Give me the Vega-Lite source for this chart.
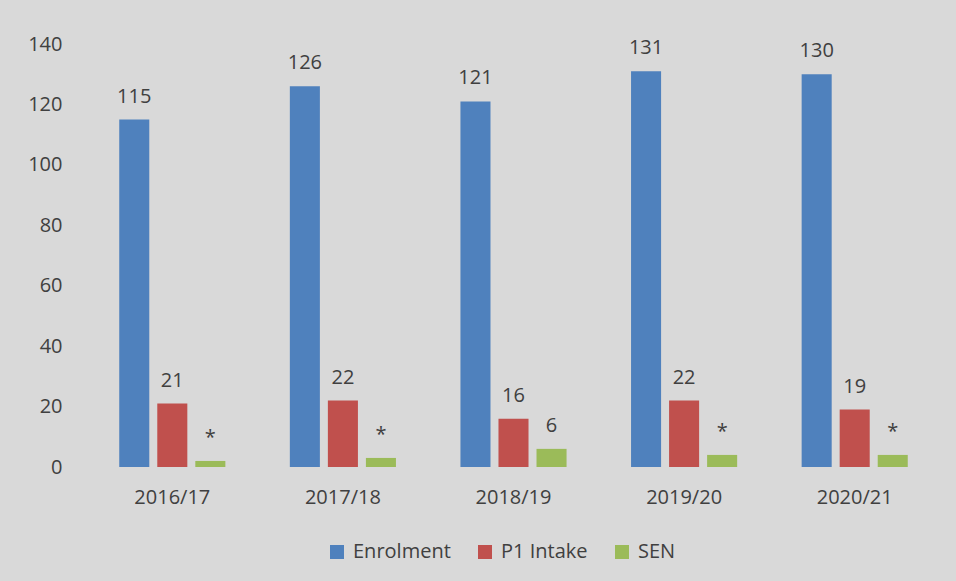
{
  "$schema": "https://vega.github.io/schema/vega-lite/v6.json",
  "width": 853,
  "height": 423,
  "autosize": {"type": "none"},
  "padding": {"left": 87, "top": 44, "right": 16, "bottom": 114},
  "background": "#d9d9d9",
  "config": {
    "view": {"stroke": null},
    "font": "Open Sans",
    "axis": {"labelColor": "#404040", "labelFont": "Open Sans", "labelFontSize": 20, "grid": false, "domain": false, "ticks": false, "title": null},
    "legend": {"labelColor": "#404040", "labelFont": "Open Sans", "labelFontSize": 20}
  },
  "data": {
    "values": [
      {"year": "2016/17", "series": "Enrolment", "value": 115, "label": "115"},
      {"year": "2016/17", "series": "P1 Intake", "value": 21, "label": "21"},
      {"year": "2016/17", "series": "SEN", "value": 2, "label": "*"},
      {"year": "2017/18", "series": "Enrolment", "value": 126, "label": "126"},
      {"year": "2017/18", "series": "P1 Intake", "value": 22, "label": "22"},
      {"year": "2017/18", "series": "SEN", "value": 3, "label": "*"},
      {"year": "2018/19", "series": "Enrolment", "value": 121, "label": "121"},
      {"year": "2018/19", "series": "P1 Intake", "value": 16, "label": "16"},
      {"year": "2018/19", "series": "SEN", "value": 6, "label": "6"},
      {"year": "2019/20", "series": "Enrolment", "value": 131, "label": "131"},
      {"year": "2019/20", "series": "P1 Intake", "value": 22, "label": "22"},
      {"year": "2019/20", "series": "SEN", "value": 4, "label": "*"},
      {"year": "2020/21", "series": "Enrolment", "value": 130, "label": "130"},
      {"year": "2020/21", "series": "P1 Intake", "value": 19, "label": "19"},
      {"year": "2020/21", "series": "SEN", "value": 4, "label": "*"}
    ]
  },
  "encoding": {
    "x": {"field": "year", "type": "nominal", "sort": null, "scale": {"paddingInner": 0.378, "paddingOuter": 0.189}, "axis": {"labelAngle": 0, "labelPadding": 20}},
    "xOffset": {"field": "series", "type": "nominal", "scale": {"paddingInner": 0.21, "paddingOuter": 0}},
    "y": {"field": "value", "type": "quantitative", "scale": {"domain": [0, 140]}, "axis": {"values": [0, 20, 40, 60, 80, 100, 120, 140], "labelPadding": 25}}
  },
  "layer": [
    {
      "mark": {"type": "bar"},
      "encoding": {
        "color": {"field": "series", "type": "nominal", "scale": {"domain": ["Enrolment", "P1 Intake", "SEN"], "range": ["#4f81bd", "#c0504d", "#9bbb59"]}, "legend": {"title": null, "orient": "none", "legendX": 240, "legendY": 498, "direction": "horizontal", "symbolType": "square", "symbolSize": 196, "symbolStrokeWidth": 0, "symbolOpacity": 1, "columnPadding": 24, "labelOffset": 6}}
      }
    },
    {
      "mark": {"type": "text", "dy": -17, "baseline": "alphabetic", "fontSize": 20, "color": "#404040"},
      "encoding": {"text": {"field": "label"}}
    }
  ]
}
